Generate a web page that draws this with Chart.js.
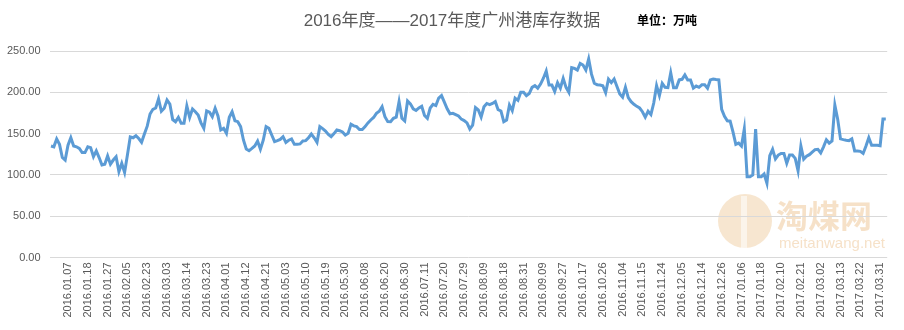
<!DOCTYPE html>
<html>
<head>
<meta charset="utf-8">
<script src="https://cdn.jsdelivr.net/npm/chart.js@4/dist/chart.umd.min.js"></script>
<style>
  html, body { margin: 0; padding: 0; background: #fff; }
  #wrap { width: 904px; height: 330px; position: relative; }
</style>
</head>
<body>
<div id="wrap"><canvas id="stockChart" width="904" height="330"></canvas></div>
<script>
const chartTitle = '2016年度——2017年度广州港库存数据';
const unitText = '单位：万吨';

// shown dates, one every 7 trading days starting at the 7th record
const tickDates = [
    '2016.01.07', '2016.01.18', '2016.01.27', '2016.02.05', '2016.02.23', '2016.03.03', '2016.03.14',
    '2016.03.23', '2016.04.01', '2016.04.12', '2016.04.21', '2016.05.03', '2016.05.10', '2016.05.19',
    '2016.05.30', '2016.06.08', '2016.06.20', '2016.06.30', '2016.07.11', '2016.07.20', '2016.07.29',
    '2016.08.09', '2016.08.18', '2016.08.31', '2016.09.09', '2016.09.27', '2016.10.17', '2016.10.26',
    '2016.11.04', '2016.11.15', '2016.11.24', '2016.12.05', '2016.12.14', '2016.12.26', '2017.01.06',
    '2017.01.18', '2017.02.10', '2017.02.21', '2017.03.02', '2017.03.13', '2017.03.22', '2017.03.31'
];
const LABEL_START = 6;
const LABEL_STEP = 7;

// inventory, 万吨
const stock = [
    135, 134, 143.5, 137, 121, 118, 136, 145, 135, 134,
    132, 127, 127, 134, 133, 122, 129, 121, 112, 113,
    123, 113, 118, 122, 104, 114, 103, 124, 146, 145,
    147.5, 144, 139.5, 149.5, 159, 173.7, 179.4, 181, 192, 177,
    180.6, 190.7, 185.8, 167, 164.4, 169.7, 162.5, 162.5, 183.4, 169.7,
    179.8, 176.5, 172.5, 163, 156.4, 177.4, 176, 170.5, 180.6, 171.3,
    154.4, 156.4, 150.3, 169.7, 176.5, 165.6, 164.4, 158.4, 142.3, 131.4,
    129.3, 132, 135, 141, 131, 142, 158.4, 156.4, 148.3, 140.2,
    141.5, 143, 146.3, 139.4, 142, 143.5, 137, 137, 137.5, 141,
    141.5, 145, 149.5, 145, 139.4, 158.4, 156, 153, 149, 146.3,
    150, 154.4, 153.5, 152, 148.3, 150.3, 161.3, 159.3, 158.4, 155,
    155, 158.5, 163, 166.5, 169.5, 174.5, 177, 182.5, 170.5, 164.5,
    164.4, 168.5, 170, 188.7, 168.5, 165.3, 189.5, 186, 180, 178,
    181, 183, 172, 168.5, 181, 185.5, 184, 193, 196, 188,
    180, 174, 174.5, 173, 171.3, 167.5, 165.8, 163, 155.6, 160.3,
    181.4, 178.6, 170, 182.5, 186.5, 185, 186.5, 188.7, 179, 177.4,
    164.4, 166.5, 184.6, 177.8, 193, 190.3, 200, 200, 196, 198.5,
    206, 208, 205, 210, 217, 225.8, 208.8, 208.8, 201, 211.7,
    205, 216.9, 206, 200, 229.8, 229, 227, 235, 233, 227,
    240.3, 222, 211, 209.2, 208.8, 208, 199.5, 216, 211.7, 216.1,
    207, 198, 194, 206, 193.5, 188.7, 185.5, 183, 181, 176.5,
    170, 177, 173, 187, 208, 196, 210.9, 206, 205.6, 223.7,
    205.6, 205.6, 215, 215.7, 221, 215, 215, 205, 207.6, 206,
    209, 209, 205, 215, 216.1, 215.5, 215, 179.4, 171, 165.5,
    165, 152, 137, 138.5, 135, 155.6, 97.8, 97.8, 100, 155.6,
    97.8, 97.8, 101, 89.8, 123.3, 131, 119.3, 124, 126, 126,
    114, 124.1, 124.1, 120, 105, 135, 119, 122.5, 124.5, 127.5,
    130.5, 131, 126.6, 134, 142.5, 138.5, 141.2, 184.6, 167.5, 143.6,
    142.7, 142, 141.5, 143.6, 129, 129, 128.5, 126, 135, 145,
    136, 136, 136, 135.4, 167.7, 167.7
];

const yTicks = [0, 50, 100, 150, 200, 250];

// category labels: blank except where a date is shown
const categories = stock.map((v, i) => {
    const k = (i - LABEL_START) / LABEL_STEP;
    return (i >= LABEL_START && Number.isInteger(k) && tickDates[k]) ? tickDates[k] : '';
});

const headerPlugin = {
    id: 'header',
    beforeDraw(chart) {
        const ctx = chart.ctx;
        ctx.save();
        ctx.fillStyle = '#fff';
        ctx.fillRect(0, 0, chart.width, chart.height);

        // faint site watermark
        ctx.fillStyle = 'rgba(238, 200, 150, 0.45)';
        ctx.beginPath();
        ctx.arc(745, 221, 27, 0, Math.PI * 2);
        ctx.fill();
        ctx.fillStyle = 'rgba(255, 255, 255, 0.55)';
        ctx.fillRect(741, 196, 6, 52);
        ctx.fillStyle = 'rgba(238, 196, 145, 0.5)';
        ctx.font = 'bold 32px "Noto Sans CJK SC"';
        ctx.textAlign = 'left';
        ctx.textBaseline = 'middle';
        ctx.fillText('淘煤网', 776, 216);
        ctx.font = '15px "Liberation Sans"';
        ctx.fillText('meitanwang.net', 779, 244);

        ctx.fillStyle = '#595959';
        ctx.font = '17px "Liberation Sans", "Noto Sans CJK SC"';
        ctx.textAlign = 'center';
        ctx.fillText(chartTitle, 452, 21);
        ctx.fillStyle = '#000';
        ctx.font = 'bold 12px "Noto Sans CJK SC"';
        ctx.textAlign = 'left';
        ctx.fillText(unitText, 637, 20);
        ctx.restore();
    }
};

new Chart(document.getElementById('stockChart').getContext('2d'), {
    type: 'line',
    data: {
        labels: categories,
        datasets: [{
            label: '库存',
            data: stock,
            borderColor: '#5B9BD5',
            borderWidth: 3,
            pointRadius: 0,
            tension: 0,
            fill: false
        }]
    },
    options: {
        responsive: false,
        animation: false,
        layout: { padding: { left: 0, right: 8.6, top: 51, bottom: 0 } },
        plugins: { legend: { display: false }, tooltip: { enabled: false } },
        scales: {
            x: {
                offset: true,
                grid: { display: false, drawTicks: false },
                border: { display: false },
                ticks: {
                    autoSkip: false,
                    minRotation: 90,
                    maxRotation: 90,
                    padding: 5,
                    color: '#595959',
                    font: { family: '"Liberation Sans", Arial', size: 11 },
                    callback: function(val, idx) { return categories[idx]; }
                },
                afterFit: function(scale) { scale.height = 72.5; }
            },
            y: {
                min: 0,
                max: 250,
                afterBuildTicks: function(scale) { scale.ticks = yTicks.map(v => ({ value: v })); },
                grid: { color: '#d9d9d9', lineWidth: 1, drawTicks: false },
                border: { display: false },
                ticks: {
                    padding: 9,
                    color: '#595959',
                    font: { family: '"Liberation Sans", Arial', size: 11 },
                    callback: function(val) { return Number(val).toFixed(2); }
                },
                afterFit: function(scale) { scale.width = 49.6; }
            }
        }
    },
    plugins: [headerPlugin]
});
</script>
</body>
</html>
